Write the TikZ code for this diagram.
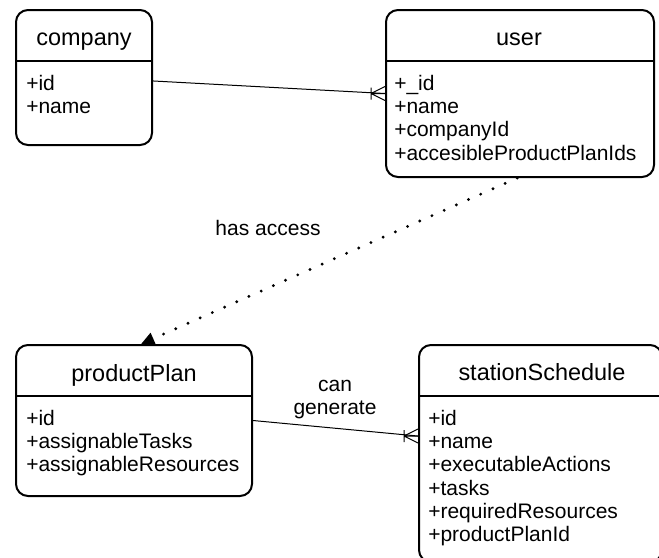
\documentclass[tikz,border=0pt]{standalone}
\usepackage{fontspec}
\setmainfont{Liberation Sans}
\usetikzlibrary{arrows.meta}

\begin{document}
\begin{tikzpicture}[x=0.75pt,y=0.75pt,yscale=-1,
  entity/.style={draw, line width=1.5pt, rounded corners=9pt, inner sep=0pt},
  divider/.style={line width=1.5pt},
  title/.style={anchor=base, inner sep=0pt, font=\fontsize{17.6pt}{20pt}\selectfont},
  attrs/.style={anchor=base west, inner sep=0pt, text width=190pt, align=left, font=\fontsize{15.75pt}{17.5pt}\selectfont},
  rel/.style={inner sep=0pt, font=\fontsize{15.75pt}{17.5pt}\selectfont},
  link/.style={line width=0.75pt},
  access/.style={line width=2.4pt, line cap=round, dash pattern=on 0pt off 10pt, -{Triangle[length=10pt,width=9pt]}},
  crowfoot/.pic={\draw [line width=0.75pt] (-14,0) -- (0,-7) (-14,0) -- (0,0) (-14,0) -- (0,7) (-14,-6) -- (-14,6);}
]
\useasboundingbox (0,0) rectangle (659,557);
\clip (0,0) rectangle (659,557);
\coordinate (topHead) at (0,61);
\coordinate (lowHead) at (0,396);

%Shape: company
\node [entity, minimum width=102pt, minimum height=101.25pt] (company) at (84,77.5) {};
\draw [divider] (company.west |- topHead) -- (company.east |- topHead);
%Shape: user
\node [entity, minimum width=201pt, minimum height=125.25pt] (user) at (520,93.5) {};
\draw [divider] (user.west |- topHead) -- (user.east |- topHead);
%Shape: productPlan
\node [entity, minimum width=177pt, minimum height=113.25pt] (productPlan) at (134,420.5) {};
\draw [divider] (productPlan.west |- lowHead) -- (productPlan.east |- lowHead);
%Shape: stationSchedule
\node [entity, minimum width=182.25pt, minimum height=162.75pt] (stationSchedule) at (540.5,453.5) {};
\draw [divider] (stationSchedule.west |- lowHead) -- (stationSchedule.east |- lowHead);

% Text Node
\node [title] (companyName) at (84,45) {company};
\node [attrs] (companyAttrs) at (26,90) {+id\\+name};
% Text Node
\node [title] (userName) at (519,45) {user};
\node [attrs] (userAttrs) at (394,90) {+\_id\\+name\\+companyId\\+accesibleProductPlanIds};
% Text Node
\node [title] (productPlanName) at (134,381) {productPlan};
\node [attrs] (productPlanAttrs) at (26,425) {+id\\+assignableTasks\\+assignableResources};
% Text Node
\node [title] (stationScheduleName) at (542,380) {stationSchedule};
\node [attrs] (stationScheduleAttrs) at (428,425) {+id\\+name\\+executableActions\\+tasks\\+requiredResources\\+productPlanId};

%Straight Lines
\draw [link] ([yshift=2.6pt]company.east) -- (user.west) coordinate (userFoot);
\pic at (userFoot) {crowfoot};
\draw [link] (productPlan.east) -- ([yshift=-13.1pt]stationSchedule.west) coordinate (stationFoot);
\pic at (stationFoot) {crowfoot};
\draw [access] ([xshift=-2pt]user.south) -- ([xshift=5.25pt]productPlan.north);

% Text Node
\node [rel, anchor=base] (accessLabel) at (268,235) {has access};
\node [rel, anchor=base, text width=70pt, align=center] (generateLabel) at (335,391) {can\\generate};

\end{tikzpicture}
\end{document}
